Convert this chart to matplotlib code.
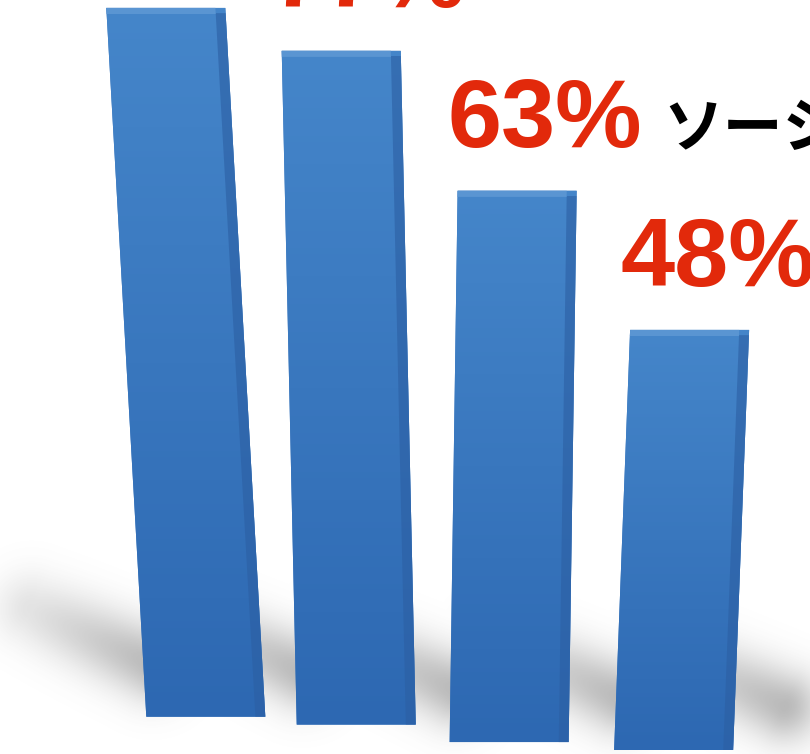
import numpy as np
import matplotlib
matplotlib.use("Agg")
import matplotlib.pyplot as plt
from matplotlib.transforms import Affine2D

# data
values = [81, 77, 63, 48]
labels = ["81%", "77%", "63%", "48%"]
note = "ソーシャルメディア"

# layout / style (perspective of the original graphic)
bar_pos = [0.12, 1.03, 1.955, 2.95]      # bottom centres
ground = [3.8, 2.9, 0.9, 0.0]            # sloping floor
lean_px = [-40, -15, 8, 16]              # top shift in pixels
width = 0.72
W, H = 810, 754
xlim = (-1.125, 3.775)
ylim = (-0.46, 85.7)
sx = W / (xlim[1] - xlim[0])
sy = H / (ylim[1] - ylim[0])

fig = plt.figure(figsize=(W / 100, H / 100), dpi=100)
ax = fig.add_axes([0, 0, 1, 1])
ax.set_xlim(*xlim)
ax.set_ylim(*ylim)
ax.axis("off")

# soft floor shadows
gx, gy = np.meshgrid(np.linspace(xlim[0], xlim[1], W),
                     np.linspace(ylim[0], ylim[1], H))
px, py = gx * sx, gy * sy
shade = np.zeros_like(px)
for p, g in zip(bar_pos + [3.95], ground + [-1.0]):
    x0, y0 = (p - width / 2) * sx + 5, (g + 6.0) * sy
    x1, y1 = x0 - 120, y0 + 55
    dx, dy = x1 - x0, y1 - y0
    t = np.clip(((px - x0) * dx + (py - y0) * dy) / (dx * dx + dy * dy), 0, 1)
    d2 = (px - x0 - t * dx) ** 2 + (py - y0 - t * dy) ** 2
    shade = np.maximum(shade, 0.42 * (1 - 0.6 * t) * np.exp(-d2 / (2 * 25 ** 2)))
rgba = np.zeros((H, W, 4))
rgba[..., :3] = 0.35
rgba[..., 3] = shade
ax.imshow(rgba, extent=(*xlim, *ylim), origin="lower", aspect="auto", zorder=0)

grad = np.linspace(0, 1, 256).reshape(-1, 1)
cmap = matplotlib.colors.LinearSegmentedColormap.from_list("b", ["#2d68b2", "#4586ca"])

for i, (v, p, g, lp) in enumerate(zip(values, bar_pos, ground, lean_px)):
    k = (lp / sx) / v
    skew = Affine2D().translate(0, -g).skew(np.arctan(k), 0).translate(0, g) + ax.transData
    front = ax.bar(p, v, width=width, bottom=g, color="#3a78c0", zorder=2)[0]
    front.set_transform(skew)
    im = ax.imshow(grad, extent=(p - width, p + width, g, g + v), origin="lower",
                   aspect="auto", cmap=cmap, zorder=3)
    im.set_clip_path(front.get_path(), front.get_transform())
    side = ax.bar(p + width / 2 - 0.03, v - 0.6, width=0.06, bottom=g,
                  color="#2c5fa3", alpha=0.6, zorder=4)[0]
    side.set_transform(skew)
    top = ax.bar(p - 0.03, 0.7, width=width - 0.06, bottom=g + v - 0.7,
                 color="#5a95d2", zorder=4)[0]
    top.set_transform(skew)

    tx = p + lp / sx - width / 2 - 10 / sx
    ty = g + v + 5.0
    ax.text(tx, ty, labels[i], ha="left", va="baseline", color="#e2290b",
            fontsize=70, fontweight="bold", family="Liberation Sans", zorder=5)
    if i == 2:
        ax.annotate(note, xy=(tx, ty), xytext=(155, 0), textcoords="offset points",
                    ha="left", va="baseline", fontsize=43, fontweight="bold",
                    family=["Noto Sans CJK JP", "DejaVu Sans"], color="black",
                    annotation_clip=False, zorder=5)

fig.savefig("out.png", dpi=100)
